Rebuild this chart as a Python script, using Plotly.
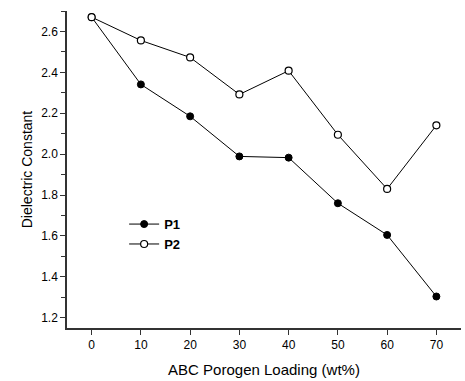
import plotly.graph_objects as go

loading = [0, 10, 20, 30, 40, 50, 60, 70]
p1 = [2.67, 2.341, 2.185, 1.989, 1.983, 1.760, 1.605, 1.304]
p2 = [2.67, 2.556, 2.473, 2.292, 2.408, 2.095, 1.830, 2.141]
x_ticks = [0, 10, 20, 30, 40, 50, 60, 70]
y_ticks = [1.2, 1.4, 1.6, 1.8, 2.0, 2.2, 2.4, 2.6]

FONT = "Arial, Liberation Sans, sans-serif"

fig = go.Figure()
fig.add_trace(go.Scatter(
    x=loading, y=p1, name="P1", mode="lines+markers",
    line=dict(color="black", width=1),
    marker=dict(symbol="circle", size=7, color="black", line=dict(color="black", width=1)),
))
fig.add_trace(go.Scatter(
    x=loading, y=p2, name="P2", mode="lines+markers",
    line=dict(color="black", width=1),
    marker=dict(symbol="circle", size=7, color="white", line=dict(color="black", width=1.2)),
))

fig.update_layout(
    width=465, height=381,
    margin=dict(l=67, r=4, t=11, b=53),
    paper_bgcolor="white", plot_bgcolor="white",
    font=dict(family=FONT, size=12, color="black"),
    showlegend=True,
    legend=dict(
        x=0.145, y=0.375, xanchor="left", yanchor="top",
        bgcolor="rgba(0,0,0,0)", borderwidth=0,
        font=dict(family=FONT, size=13, color="black", weight="bold"),
        tracegroupgap=0, itemsizing="trace",
    ),
    xaxis=dict(
        range=[-5, 75], tickvals=x_ticks, ticktext=[str(v) for v in x_ticks],
        showgrid=False, zeroline=False, showline=True, linecolor="#333333", linewidth=1.5,
        ticks="outside", ticklen=5, tickwidth=1.2, tickcolor="#333333",
        title=dict(text="ABC Porogen Loading (wt%)", font=dict(size=15), standoff=13),
        tickfont=dict(size=12),
    ),
    yaxis=dict(
        range=[1.15, 2.70], tickvals=y_ticks, ticktext=[f"{v:.1f}" for v in y_ticks],
        showgrid=False, zeroline=False, showline=True, linecolor="#333333", linewidth=1.5,
        ticks="outside", ticklen=5, tickwidth=1.2, tickcolor="#333333",
        minor=dict(dtick=0.1, tick0=0, ticks="outside", ticklen=4, tickwidth=1.2, tickcolor="#333333", showgrid=False),
        title=dict(text="Dielectric Constant", font=dict(size=14), standoff=5),
        tickfont=dict(size=12),
    ),
)

fig.write_html("out.html", config={"displayModeBar": False},
               post_script="document.body.style.margin='0';")
